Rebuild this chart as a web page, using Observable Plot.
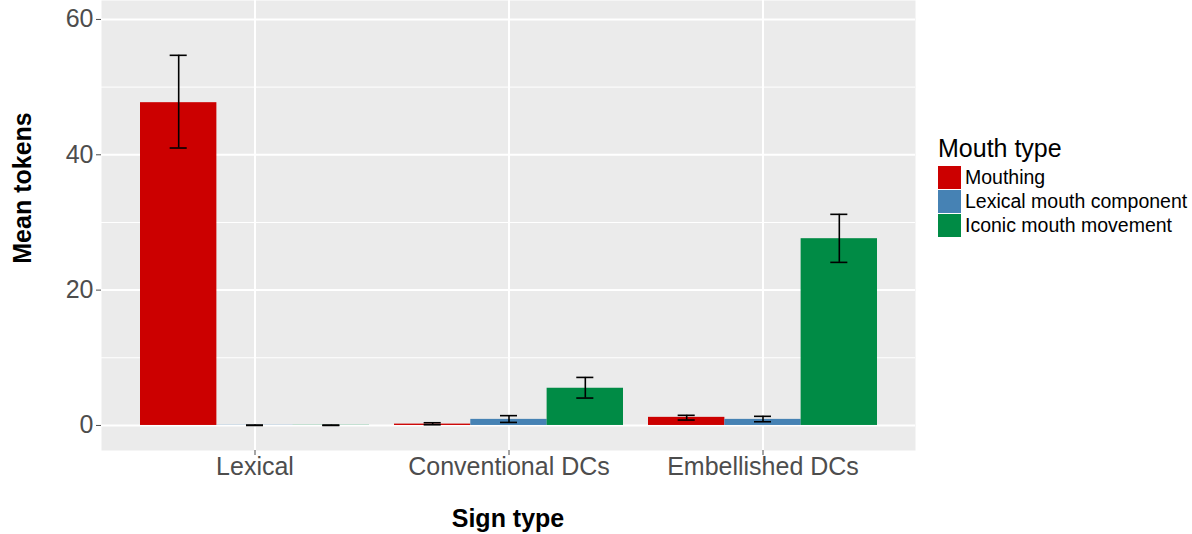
<!DOCTYPE html>
<html>
<head>
<meta charset="utf-8">
<script src="https://cdn.jsdelivr.net/npm/d3@7"></script>
<script src="https://cdn.jsdelivr.net/npm/@observablehq/plot@0.6"></script>
<style>
  html, body { margin: 0; padding: 0; background: #ffffff; }
  body { font-family: "Liberation Sans", Arial, Helvetica, sans-serif; }
  #wrap { position: relative; width: 1192px; height: 534px; }
  .ttl { position: absolute; font-weight: bold; font-size: 25px; color: #000; white-space: nowrap; }
  #legend { position: absolute; left: 938px; top: 134px; }
  #legend .lt { font-size: 25px; color: #000; line-height: 28px; margin-bottom: 3px; }
  #legend .row { display: flex; align-items: center; height: 24px; }
  #legend .sw { width: 23px; height: 23px; margin-right: 4px; }
  #legend .lab { font-size: 19.5px; color: #000; }
</style>
</head>
<body>
<div id="wrap"></div>
<script>
// ---- data ----
const signTypes = ["Lexical", "Conventional DCs", "Embellished DCs"];
const mouthTypes = ["Mouthing", "Lexical mouth component", "Iconic mouth movement"];
const mouthColors = ["#CC0000", "#4682B4", "#008B45"];

const meanMouthing   = [47.7, 0.2, 1.2];
const lowMouthing    = [41.0, 0.1, 0.8];
const highMouthing   = [54.7, 0.4, 1.5];

const meanLexicalComp = [0.03, 0.9, 0.9];
const lowLexicalComp  = [0.0, 0.45, 0.55];
const highLexicalComp = [0.05, 1.45, 1.35];

const meanIconic = [0.03, 5.5, 27.6];
const lowIconic  = [0.0, 4.05, 24.1];
const highIconic = [0.05, 7.1, 31.2];

const yTicks = [0, 20, 40, 60];
const yMinorTicks = [10, 30, 50];

// ---- build table ----
const series = [
  [meanMouthing, lowMouthing, highMouthing],
  [meanLexicalComp, lowLexicalComp, highLexicalComp],
  [meanIconic, lowIconic, highIconic]
];
const rows = [];
series.forEach(([m, lo, hi], i) => {
  signTypes.forEach((s, j) => {
    rows.push({sign: s, mouth: mouthTypes[i], mi: i, mean: m[j], lo: lo[j], hi: hi[j]});
  });
});

// ---- layout ----
const W = 1192, H = 534;
const mL = 101, mR = W - 915, mT = 0, mB = H - 450;
const step = (W - mL - mR) / 3.2;     // band step
const barW = step * 0.3;              // each dodged bar
const capHalf = 8.5;

const marks = [
  Plot.frame({fill: "#EBEBEB", stroke: null}),
  Plot.gridY({ticks: yMinorTicks, stroke: "#ffffff", strokeOpacity: 1, strokeWidth: 1}),
  Plot.gridY({ticks: yTicks, stroke: "#ffffff", strokeOpacity: 1, strokeWidth: 2}),
  Plot.gridX({stroke: "#ffffff", strokeOpacity: 1, strokeWidth: 2}),
];

mouthTypes.forEach((mt, i) => {
  const d = rows.filter(r => r.mi === i);
  marks.push(Plot.barY(d, {
    x: "sign", y: "mean", fill: "mouth",
    insetLeft: i * barW, insetRight: (2 - i) * barW
  }));
});
mouthTypes.forEach((mt, i) => {
  const d = rows.filter(r => r.mi === i);
  const center = i * barW + barW / 2;
  marks.push(Plot.ruleX(d, {x: "sign", y1: "lo", y2: "hi", dx: (i - 1) * barW, stroke: "#000", strokeWidth: 1.6}));
  marks.push(Plot.tickY(d, {x: "sign", y: "lo", stroke: "#000", strokeWidth: 1.6,
    insetLeft: center - capHalf, insetRight: (3 * barW - center) - capHalf}));
  marks.push(Plot.tickY(d, {x: "sign", y: "hi", stroke: "#000", strokeWidth: 1.6,
    insetLeft: center - capHalf, insetRight: (3 * barW - center) - capHalf}));
});

marks.push(Plot.axisY({ticks: yTicks, tickSize: 5, tickPadding: 3, fontSize: 25, color: "#4D4D4D", label: null}));
marks.push(Plot.axisX({tickSize: 5, tickPadding: 2, fontSize: 25, color: "#4D4D4D", label: null}));

const chart = Plot.plot({
  width: W, height: H,
  marginLeft: mL, marginRight: mR, marginTop: mT, marginBottom: mB,
  style: {fontFamily: '"Liberation Sans", Arial, Helvetica, sans-serif', background: "transparent", overflow: "visible"},
  x: {domain: signTypes, paddingInner: 0.1, paddingOuter: 0.15, label: null},
  y: {domain: [-3.7, 62.8], label: null},
  color: {domain: mouthTypes, range: mouthColors},
  marks
});

const wrap = document.getElementById("wrap");
wrap.appendChild(chart);

// axis titles
const xt = document.createElement("div");
xt.className = "ttl";
xt.textContent = "Sign type";
xt.style.left = (mL + (W - mL - mR) / 2) + "px";
xt.style.top = "504px";
xt.style.transform = "translateX(-50%)";
wrap.appendChild(xt);

const yt = document.createElement("div");
yt.className = "ttl";
yt.textContent = "Mean tokens";
yt.style.left = "22px";
yt.style.top = "188px";
yt.style.transform = "translate(-50%, -50%) rotate(-90deg)";
wrap.appendChild(yt);

// legend
const lg = document.createElement("div");
lg.id = "legend";
const lt = document.createElement("div");
lt.className = "lt";
lt.textContent = "Mouth type";
lg.appendChild(lt);
mouthTypes.forEach((m, i) => {
  const r = document.createElement("div");
  r.className = "row";
  const sw = document.createElement("div");
  sw.className = "sw";
  sw.style.background = mouthColors[i];
  const lab = document.createElement("span");
  lab.className = "lab";
  lab.textContent = m;
  r.appendChild(sw); r.appendChild(lab);
  lg.appendChild(r);
});
wrap.appendChild(lg);
</script>
</body>
</html>
